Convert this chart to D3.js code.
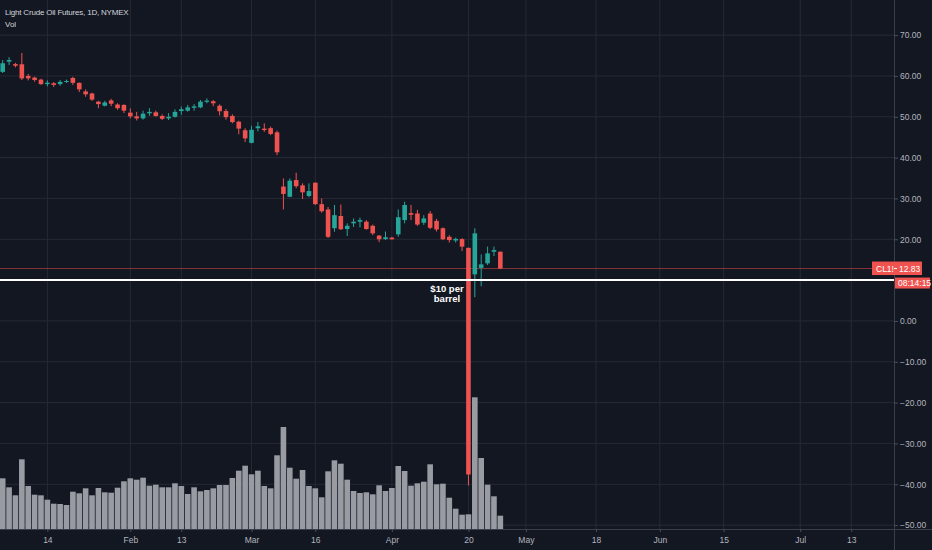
<!DOCTYPE html>
<html lang="en">
<head>
  <meta charset="UTF-8">
  <title>Light Crude Oil Futures, 1D, NYMEX</title>
  <script src="https://d3js.org/d3.v7.min.js"></script>
  <style>
    body {
      margin: 0;
      background: #131722;
    }

    svg {
      display: block;
      font-family: "Liberation Sans", Arial, sans-serif;
    }

    .grid line {
      stroke: #262a35;
      stroke-width: 1px;
    }

    .axis text {
      fill: #b2b5be;
      font-size: 8.5px;
    }

    .axis line {
      stroke: #4a4e59;
    }

    .frame {
      stroke: #3a3e49;
      stroke-width: 1px;
    }
  </style>
</head>
<body>
  <svg width="932" height="550"></svg>
  <script>
    // trading days: weekdays from first to last bar, minus exchange holidays
    const firstDay = "2020-01-03";
    const lastDay = "2020-04-27";
    const axisEnd = "2020-07-22";
    const holidays = ["2020-01-20", "2020-02-17", "2020-04-10"];

    // daily OHLC, one value per trading day
    const open = [61.0, 63.5, 62.9, 62.85, 60.0, 59.6, 59.1, 58.0, 58.2, 58.0,
      58.5, 59.5, 58.3, 56.2, 55.7, 53.7, 52.7, 54.0, 53.0, 52.9,
      51.0, 50.1, 49.6, 50.85, 51.1, 50.2, 49.6, 50.0, 51.4, 51.5,
      52.2, 52.3, 53.65, 53.8, 52.7, 51.4, 50.2, 48.8, 46.7, 43.6,
      47.2, 47.1, 47.2, 46.2, 32.9, 30.4, 34.5, 33.2, 30.6, 33.85,
      28.6, 27.3, 22.7, 25.7, 22.5, 23.9, 24.3, 24.3, 23.3, 20.9,
      20.05, 20.4, 21.2, 24.7, 26.4, 26.3, 24.05, 26.3, 24.5, 22.7,
      20.6, 19.7, 20.05, 17.9, 11.4, 13.0, 14.1, 16.95, 16.95];
    const high = [63.9, 64.6, 63.2, 65.6, 60.5, 59.8, 59.3, 58.9, 58.5, 59.0,
      59.1, 59.8, 58.4, 56.7, 55.9, 53.9, 53.9, 54.4, 53.3, 53.05,
      52.05, 51.2, 51.5, 52.1, 51.5, 50.6, 50.9, 51.8, 52.5, 52.9,
      53.1, 54.1, 54.5, 54.1, 53.05, 51.9, 50.6, 49.0, 47.2, 47.8,
      48.7, 48.4, 47.6, 46.6, 34.9, 34.9, 36.3, 33.7, 33.7, 33.9,
      30.0, 27.9, 28.4, 28.5, 23.9, 25.1, 25.3, 24.7, 23.6, 21.0,
      21.9, 20.6, 27.3, 29.2, 28.4, 27.2, 25.9, 26.9, 25.0, 22.9,
      21.0, 20.4, 20.25, 17.95, 22.7, 16.3, 18.2, 18.2, 17.0];
    const low = [60.7, 62.7, 62.1, 59.0, 58.9, 58.6, 57.8, 57.45, 57.3, 57.6,
      58.3, 57.8, 56.05, 54.9, 53.9, 52.1, 52.55, 52.6, 51.7, 50.9,
      49.6, 49.1, 49.3, 50.25, 50.0, 49.2, 49.2, 49.8, 50.5, 51.25,
      51.5, 52.1, 53.3, 52.6, 50.35, 49.3, 48.4, 45.7, 43.8, 43.5,
      46.4, 46.3, 45.5, 40.6, 27.3, 30.3, 32.5, 29.85, 30.3, 28.4,
      26.5, 20.3, 21.85, 22.3, 20.8, 23.0, 22.9, 22.35, 21.0, 19.3,
      19.8, 19.9, 20.6, 23.9, 24.7, 23.3, 23.5, 22.5, 21.9, 19.8,
      19.2, 19.2, 17.1, -40.3, 5.8, 8.5, 13.7, 15.9, 12.7];
    const close = [63.1, 63.9, 62.5, 59.4, 59.4, 59.0, 58.0, 58.35, 57.8, 58.55,
      58.75, 58.3, 56.7, 55.5, 54.2, 53.1, 53.5, 53.2, 52.1, 51.5,
      50.1, 49.6, 50.75, 51.2, 50.2, 49.5, 50.0, 51.2, 51.85, 52.3,
      52.55, 53.7, 53.95, 53.3, 51.35, 49.9, 48.7, 47.1, 44.7, 46.8,
      47.65, 46.75, 45.8, 41.3, 31.1, 34.35, 33.0, 31.5, 31.8, 28.6,
      26.85, 20.6, 25.9, 22.45, 23.3, 24.3, 24.7, 22.5, 21.45, 20.0,
      20.5, 20.0, 25.4, 28.4, 26.0, 23.6, 25.1, 22.8, 22.4, 20.0,
      19.8, 20.1, 18.2, -37.6, 21.45, 13.85, 16.55, 17.35, 12.83];
    // volume, thousand contracts
    const volume = [507, 417, 337, 697, 430, 343, 337, 293, 253, 250,
      240, 373, 357, 407, 337, 410, 367, 363, 413, 477,
      507, 493, 513, 433, 443, 417, 417, 457, 430, 350,
      417, 377, 390, 407, 440, 440, 510, 583, 633, 547,
      583, 430, 407, 737, 1020, 613, 503, 590, 430, 407,
      317, 577, 687, 653, 493, 380, 360, 367, 347, 437,
      380, 410, 630, 580, 433, 457, 473, 647, 447, 453,
      313, 203, 143, 147, 1317, 710, 443, 327, 133];

    const timeTicks = ["2020-01-14", "2020-02-03", "2020-02-13", "2020-03-02", "2020-03-16",
      "2020-04-01", "2020-04-20", "2020-05-01", "2020-05-18", "2020-06-01",
      "2020-06-15", "2020-07-01", "2020-07-13"];
    const timeLabels = ["14", "Feb", "13", "Mar", "16", "Apr", "20", "May", "18", "Jun", "15", "Jul", "13"];
    const priceTicks = [-50, -40, -30, -20, -10, 0, 10, 20, 30, 40, 50, 60, 70];
    const markLevel = 10;
    const markText = ["$10 per", "barrel"];

    const W = 932, H = 550;
    const plotRight = 894, plotBottom = 529;
    const step = 6.38;
    const up = "#26a69a", down = "#ef5350";

    const parse = d3.timeParse("%Y-%m-%d");
    const fmt = d3.timeFormat("%Y-%m-%d");
    const weekdays = (a, b) => d3.timeDay.range(parse(a), d3.timeDay.offset(parse(b), 1))
      .filter(d => d.getDay() % 6 !== 0)
      .map(fmt);

    const tradeDays = weekdays(firstDay, lastDay).filter(d => !holidays.includes(d));
    const futureDays = weekdays("2020-04-28", axisEnd);
    const allDays = tradeDays.concat(futureDays);

    const bars = tradeDays.map((d, i) => ({
      date: d, o: open[i], h: high[i], l: low[i], c: close[i], v: volume[i]
    }));

    const x = d3.scalePoint()
      .domain(allDays)
      .range([2.7, 2.7 + step * (allDays.length - 1)]);
    const y = d3.scaleLinear().domain([-50, 70]).range([525.1, 35.1]);
    const yVol = d3.scaleLinear().domain([0, 1500]).range([plotBottom, plotBottom - 150]);

    const svg = d3.select("svg");
    svg.append("rect").attr("width", W).attr("height", H).attr("fill", "#131722");

    svg.append("clipPath").attr("id", "plot")
      .append("rect").attr("width", plotRight).attr("height", plotBottom);

    // grid
    const grid = svg.append("g").attr("class", "grid").attr("clip-path", "url(#plot)");
    grid.selectAll(".gx")
      .data(timeTicks)
      .enter()
      .append("line")
      .attr("x1", d => x(d)).attr("x2", d => x(d))
      .attr("y1", 0).attr("y2", plotBottom);
    grid.selectAll(".gy")
      .data(priceTicks)
      .enter()
      .append("line")
      .attr("x1", 0).attr("x2", plotRight)
      .attr("y1", d => y(d)).attr("y2", d => y(d));

    const plot = svg.append("g").attr("clip-path", "url(#plot)");

    // volume
    const vw = step * 0.88;
    plot.selectAll(".vol")
      .data(bars)
      .enter()
      .append("rect")
      .attr("x", d => x(d.date) - vw / 2)
      .attr("width", vw)
      .attr("y", d => yVol(d.v))
      .attr("height", d => yVol(0) - yVol(d.v))
      .attr("fill", "#989ba2");

    // price line of last close
    const last = bars[bars.length - 1];
    plot.append("line")
      .attr("x1", 0).attr("x2", plotRight)
      .attr("y1", y(last.c)).attr("y2", y(last.c))
      .attr("stroke", down).attr("stroke-opacity", 0.5);

    // candles
    const cw = step * 0.72;
    const candle = plot.selectAll(".candle")
      .data(bars)
      .enter()
      .append("g")
      .attr("fill", d => d.c >= d.o ? up : down)
      .attr("stroke", d => d.c >= d.o ? up : down);

    candle.append("line")
      .attr("x1", d => x(d.date)).attr("x2", d => x(d.date))
      .attr("y1", d => y(d.h)).attr("y2", d => y(d.l))
      .attr("stroke-width", 1);

    candle.append("rect")
      .attr("stroke", "none")
      .attr("x", d => x(d.date) - cw / 2)
      .attr("width", cw)
      .attr("y", d => y(Math.max(d.o, d.c)))
      .attr("height", d => Math.max(1, y(Math.min(d.o, d.c)) - y(Math.max(d.o, d.c))));

    // $10 horizontal line and note
    plot.append("line")
      .attr("x1", 0).attr("x2", plotRight)
      .attr("y1", y(markLevel)).attr("y2", y(markLevel))
      .attr("stroke", "#fff").attr("stroke-width", 2);

    svg.append("g")
      .selectAll("text")
      .data(markText)
      .enter()
      .append("text")
      .attr("x", 447)
      .attr("y", (d, i) => y(markLevel) + 12 + i * 10)
      .attr("text-anchor", "middle")
      .attr("fill", "#fff")
      .style("font-size", "9.5px")
      .style("font-weight", "bold")
      .text(d => d);

    // frame lines
    svg.append("line").attr("class", "frame")
      .attr("x1", 0).attr("x2", W).attr("y1", plotBottom + 0.5).attr("y2", plotBottom + 0.5);
    svg.append("line").attr("class", "frame")
      .attr("x1", plotRight + 0.5).attr("x2", plotRight + 0.5).attr("y1", 0).attr("y2", H);

    // axes (the 10.00 label sits under the countdown box, so it is left out)
    const yAxis = svg.append("g")
      .attr("class", "axis")
      .attr("transform", `translate(${plotRight},0)`)
      .call(d3.axisRight(y)
        .tickValues(priceTicks.filter(d => d !== markLevel))
        .tickFormat(d3.format(".2f")).tickSize(4).tickPadding(2));
    yAxis.select(".domain").remove();

    const xAxis = svg.append("g")
      .attr("class", "axis")
      .attr("transform", `translate(0,${plotBottom})`)
      .call(d3.axisBottom(x).tickValues(timeTicks).tickFormat((d, i) => timeLabels[i]).tickSize(3).tickPadding(5));
    xAxis.select(".domain").remove();

    // last price labels on the scale
    const py = y(last.c);
    svg.append("rect")
      .attr("x", 872).attr("y", py - 7).attr("width", 50).attr("height", 13.5)
      .attr("fill", down);
    svg.append("text")
      .attr("x", 876).attr("y", py + 3)
      .attr("fill", "#fff").style("font-size", "8.5px")
      .text("CL1!");
    svg.append("line")
      .attr("x1", plotRight).attr("x2", plotRight + 3)
      .attr("y1", py).attr("y2", py)
      .attr("stroke", "#fff");
    svg.append("text")
      .attr("x", 899).attr("y", py + 3)
      .attr("fill", "#fff").style("font-size", "8.5px")
      .text(d3.format(".2f")(last.c));

    svg.append("rect")
      .attr("x", 895).attr("y", py + 9).attr("width", 35).attr("height", 11)
      .attr("fill", down);
    svg.append("text")
      .attr("x", 898).attr("y", py + 17.5)
      .attr("fill", "#fff").style("font-size", "8.5px")
      .text("08:14:15");

    // legend
    svg.append("text")
      .attr("x", 5).attr("y", 15)
      .attr("fill", "#d1d4dc").style("font-size", "8px")
      .style("letter-spacing", "-0.2px")
      .text("Light Crude Oil Futures, 1D, NYMEX");
    svg.append("text")
      .attr("x", 5).attr("y", 27)
      .attr("fill", "#d1d4dc").style("font-size", "8px")
      .text("Vol");
  </script>
</body>
</html>
